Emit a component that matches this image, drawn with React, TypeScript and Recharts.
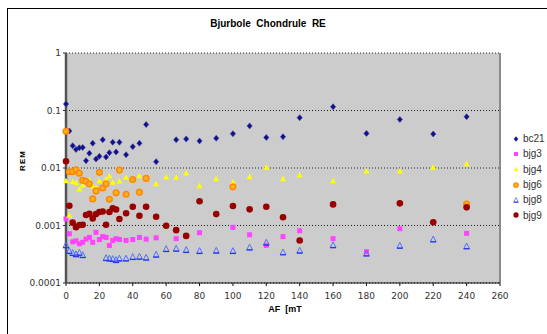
import {
	CartesianGrid,
	ReferenceLine,
	Scatter,
	ScatterChart,
	XAxis,
	YAxis,
} from "recharts";

const afTicks = [0, 20, 40, 60, 80, 100, 120, 140, 160, 180, 200, 220, 240, 260];
const remTicks = [0.0001, 0.001, 0.01, 0.1, 1];

const bc21Af = [0, 2, 4, 6, 8, 10, 12, 14, 16, 18, 20, 22, 24, 26, 28, 30, 32, 36, 40, 44, 48, 54, 66, 72, 80, 90, 100, 110, 120, 130, 140, 160, 180, 200, 220, 240];
const bc21Rem = [0.13, 0.044, 0.0244, 0.021, 0.0225, 0.0228, 0.0134, 0.018, 0.027, 0.0143, 0.016, 0.031, 0.0155, 0.0185, 0.028, 0.019, 0.028, 0.017, 0.0235, 0.027, 0.057, 0.0129, 0.031, 0.032, 0.0295, 0.033, 0.0395, 0.054, 0.034, 0.035, 0.075, 0.116, 0.04, 0.07, 0.039, 0.078];

const bjg3Af = [0, 2, 4, 6, 8, 10, 12, 14, 16, 18, 20, 22, 24, 26, 28, 30, 32, 36, 40, 44, 48, 54, 66, 80, 100, 110, 120, 130, 140, 160, 180, 200, 240];
const bjg3Rem = [0.0013, 0.00072, 0.00052, 0.00054, 0.00048, 0.00051, 0.00058, 0.00062, 0.00051, 0.00076, 0.00057, 0.00064, 0.00062, 0.00045, 0.00055, 0.00059, 0.00057, 0.00055, 0.00057, 0.00062, 0.00058, 0.00061, 0.00059, 0.00075, 0.00093, 0.00069, 0.00045, 0.00064, 0.00081, 0.00059, 0.00035, 0.00088, 0.00073];

const bjg4Af = [0, 2, 4, 6, 8, 10, 14, 16, 18, 20, 24, 26, 28, 32, 36, 44, 54, 60, 66, 72, 80, 90, 100, 110, 120, 130, 140, 160, 180, 200, 220, 240];
const bjg4Rem = [0.006, 0.0015, 0.0058, 0.00555, 0.0043, 0.00506, 0.0062, 0.00486, 0.00461, 0.006, 0.00644, 0.00726, 0.00564, 0.00594, 0.00689, 0.00735, 0.00533, 0.00697, 0.0069, 0.0082, 0.0049, 0.0065, 0.0057, 0.00706, 0.0103, 0.0065, 0.00755, 0.006, 0.0089, 0.0089, 0.0103, 0.0119];

const bjg6Af = [0, 2, 4, 6, 8, 10, 12, 14, 16, 18, 20, 22, 24, 26, 30, 32, 36, 40, 44, 48, 100, 240];
const bjg6Rem = [0.0435, 0.0086, 0.0086, 0.0093, 0.0081, 0.0061, 0.0059, 0.0053, 0.0029, 0.004, 0.0084, 0.0045, 0.0053, 0.00286, 0.0037, 0.0092, 0.0035, 0.0063, 0.0038, 0.0066, 0.0047, 0.00237];

const bjg8Af = [0, 2, 4, 6, 8, 10, 24, 26, 28, 30, 32, 36, 40, 44, 48, 54, 60, 66, 72, 80, 90, 100, 110, 120, 130, 140, 160, 180, 200, 220, 240];
const bjg8Rem = [0.00046, 0.000365, 0.000337, 0.00032, 0.00034, 0.00031, 0.000275, 0.00027, 0.000265, 0.000254, 0.00027, 0.00027, 0.000287, 0.00029, 0.00028, 0.000315, 0.000395, 0.0004, 0.00038, 0.000365, 0.00037, 0.000365, 0.00042, 0.00051, 0.000346, 0.00037, 0.00046, 0.00033, 0.00045, 0.00058, 0.00044];

const bjg9Af = [0, 2, 4, 6, 8, 10, 12, 14, 16, 18, 20, 22, 24, 26, 28, 30, 32, 36, 40, 44, 48, 54, 60, 66, 72, 80, 90, 100, 110, 120, 130, 140, 160, 200, 220, 240];
const bjg9Rem = [0.0131, 0.0022, 0.00112, 0.00093, 0.00102, 0.00103, 0.00152, 0.0016, 0.00133, 0.00158, 0.00172, 0.00175, 0.00103, 0.00172, 0.00199, 0.0019, 0.0013, 0.00163, 0.00212, 0.00148, 0.00212, 0.00142, 0.00099, 0.00083, 0.00066, 0.00264, 0.00158, 0.00218, 0.00191, 0.00212, 0.00139, 0.00055, 0.00233, 0.00243, 0.00114, 0.00207];

function toPoints(af: number[], rem: number[]) {
	return af.map((a, i) => ({ af: a, rem: rem[i] }));
}

interface ShapeProps {
	cx?: number;
	cy?: number;
}

const Diamond = ({ cx = 0, cy = 0 }: ShapeProps) => (
	<path
		d={`M${cx},${cy - 3}L${cx + 2.6},${cy}L${cx},${cy + 3}L${cx - 2.6},${cy}Z`}
		fill="#10108a"
		stroke="#3a3aa0"
		strokeWidth={0.6}
	/>
);

const Square = ({ cx = 0, cy = 0 }: ShapeProps) => (
	<rect x={cx - 2.5} y={cy - 2.5} width={5} height={5} fill="#ff44ff" />
);

const Triangle = ({ cx = 0, cy = 0 }: ShapeProps) => (
	<path
		d={`M${cx},${cy - 3}L${cx + 3},${cy + 2.5}L${cx - 3},${cy + 2.5}Z`}
		fill="#ffff00"
	/>
);

const Ring = ({ cx = 0, cy = 0 }: ShapeProps) => (
	<circle cx={cx} cy={cy} r={2.8} fill="#ffb020" stroke="#ff8800" strokeWidth={1.5} />
);

const OpenTriangle = ({ cx = 0, cy = 0 }: ShapeProps) => (
	<g>
		<path
			d={`M${cx},${cy - 3}L${cx + 2.8},${cy + 2.5}L${cx - 2.8},${cy + 2.5}Z`}
			fill="none"
			stroke="#4466ff"
			strokeWidth={0.9}
		/>
		<line x1={cx - 3} y1={cy + 2.8} x2={cx + 3} y2={cy + 2.8} stroke="#2233ee" strokeWidth={1.2} />
	</g>
);

const Dot = ({ cx = 0, cy = 0 }: ShapeProps) => (
	<circle cx={cx} cy={cy} r={3.3} fill="#990000" />
);

const series = [
	{ name: "bc21", data: toPoints(bc21Af, bc21Rem), Shape: Diamond },
	{ name: "bjg3", data: toPoints(bjg3Af, bjg3Rem), Shape: Square },
	{ name: "bjg4", data: toPoints(bjg4Af, bjg4Rem), Shape: Triangle },
	{ name: "bjg6", data: toPoints(bjg6Af, bjg6Rem), Shape: Ring },
	{ name: "bjg8", data: toPoints(bjg8Af, bjg8Rem), Shape: OpenTriangle },
	{ name: "bjg9", data: toPoints(bjg9Af, bjg9Rem), Shape: Dot },
];

const tickStyle = { fontSize: 9, fill: "#333", fontFamily: "DejaVu Sans" };

export default function App() {
	return (
		<div style={{ position: "absolute", left: 0, top: 0, width: 547, height: 334, background: "#fff", overflow: "hidden" }}>
			<div style={{ position: "absolute", left: 7, top: 8, width: 560, height: 340, border: "1px solid #000" }} />
			<div
				style={{
					position: "absolute",
					left: 168,
					top: 18,
					width: 200,
					textAlign: "center",
					font: "bold 10px 'Liberation Sans', sans-serif",
					whiteSpace: "pre",
					color: "#000",
				}}
			>
				Bjurbole  Chondrule  RE
			</div>
			<div
				style={{
					position: "absolute",
					left: 2,
					top: 156,
					width: 40,
					textAlign: "center",
					transform: "rotate(-90deg)",
					font: "bold 8px 'Liberation Sans', sans-serif",
					letterSpacing: 1,
				}}
			>
				REM
			</div>
			<div
				style={{
					position: "absolute",
					left: 235,
					top: 304,
					width: 100,
					textAlign: "center",
					font: "bold 9px 'Liberation Sans', sans-serif",
					whiteSpace: "pre",
				}}
			>
				AF  [mT
			</div>
			<div style={{ position: "absolute", left: 0, top: 0 }}>
				<ScatterChart
					width={547}
					height={334}
					margin={{ top: 53, right: 47, bottom: 21, left: 6 }}
				>
					<CartesianGrid
						vertical={false}
						fill="#cccccc"
						fillOpacity={1}
						stroke="#222"
						strokeDasharray="1 2"
					/>
					<XAxis
						type="number"
						dataKey="af"
						domain={[0, 260]}
						ticks={afTicks}
						interval={0}
						height={30}
						tick={tickStyle}
						tickSize={3}
						tickMargin={7}
						axisLine={{ stroke: "#111", strokeWidth: 1.2 }}
						tickLine={{ stroke: "#111" }}
					/>
					<YAxis
						type="number"
						dataKey="rem"
						scale="log"
						domain={[0.0001, 1]}
						ticks={remTicks}
						interval={0}
						allowDataOverflow
						width={60}
						tick={tickStyle}
						tickSize={3}
						tickMargin={2}
						tickFormatter={(v: number) => String(v)}
						axisLine={{ stroke: "#555", strokeWidth: 2.5 }}
						tickLine={{ stroke: "#333" }}
					/>
					<ReferenceLine x={260} stroke="#8a8a8a" strokeWidth={2} />
					{series.map(({ name, data, Shape }) => (
						<Scatter
							key={name}
							name={name}
							data={data}
							isAnimationActive={false}
							shape={(p: ShapeProps) => <Shape cx={p.cx} cy={p.cy} />}
						/>
					))}
				</ScatterChart>
			</div>
			<div style={{ position: "absolute", left: 510, top: 131 }}>
				{series.map(({ name, Shape }) => (
					<div key={name} style={{ display: "flex", alignItems: "center", height: 15.3 }}>
						<svg width={12} height={12} style={{ marginRight: 1 }}>
							<g transform="translate(6,6) scale(0.8) translate(-6,-6)">
								<Shape cx={6} cy={6} />
							</g>
						</svg>
						<span style={{ font: "10px 'Liberation Sans', sans-serif", color: "#333" }}>{name}</span>
					</div>
				))}
			</div>
		</div>
	);
}
